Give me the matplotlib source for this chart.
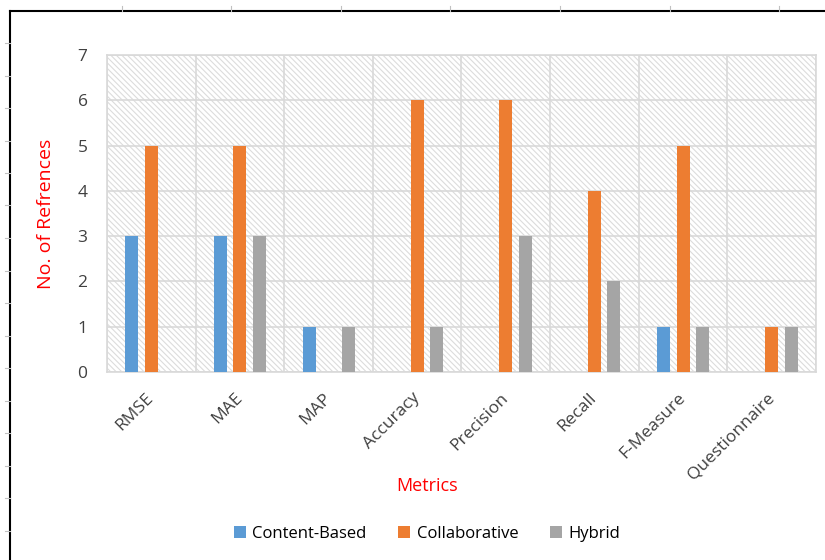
import numpy as np
import matplotlib.pyplot as plt
from matplotlib.patches import Rectangle
from matplotlib.lines import Line2D

# Datos
metrics = ['RMSE', 'MAE', 'MAP', 'Accuracy', 'Precision', 'Recall', 'F-Measure', 'Questionnaire']
content_based = [3, 3, 1, 0, 0, 0, 1, 0]
collaborative = [5, 5, 0, 6, 6, 4, 5, 1]
hybrid = [0, 3, 1, 1, 3, 2, 1, 1]

series = [('Content-Based', content_based, '#5B9BD5'),
          ('Collaborative', collaborative, '#ED7D31'),
          ('Hybrid', hybrid, '#A5A5A5')]

plt.rcParams['font.family'] = ['Open Sans', 'DejaVu Sans']
plt.rcParams['hatch.linewidth'] = 0.8

fig = plt.figure(figsize=(8.25, 5.6), dpi=100)
W, H = 825, 560
ax = fig.add_axes([107 / W, 1 - 372 / H, (816 - 107) / W, (372 - 55) / H])

# Fondo rayado del area de trazado
ax.set_facecolor('white')
ax.add_patch(Rectangle((0, 0), 1, 1, transform=ax.transAxes, facecolor='white',
                       edgecolor='#DCDCDC', hatch='\\\\\\\\\\\\', lw=0, zorder=0))

x = np.arange(len(metrics))
width = 0.147
offset = 0.22
for i, (name, vals, col) in enumerate(series):
    ax.bar(x + (i - 1) * offset, vals, width, color=col, label=name, zorder=3)

ax.set_xlim(-0.5, len(metrics) - 0.5)
ax.set_ylim(0, 7)
ax.set_yticks(range(8))
ax.set_xticks(x)
ax.set_xticklabels(metrics, rotation=45, ha='right', va='center', rotation_mode='anchor',
                   fontsize=12.5, color='#404040')
ax.tick_params(axis='x', length=0, pad=17)
ax.tick_params(axis='y', length=0, pad=14, labelsize=12.5, labelcolor='#404040')

# Cuadricula
ax.set_xticks(np.arange(-0.5, len(metrics), 1), minor=True)
ax.grid(True, which='major', axis='y', color='#D9D9D9', lw=1.2, zorder=1)
ax.grid(True, which='minor', axis='x', color='#D9D9D9', lw=1.2, zorder=1)
ax.tick_params(which='minor', length=0)
for s in ax.spines.values():
    s.set_color('#D9D9D9')
    s.set_linewidth(1.2)

ax.set_ylabel('No. of Refrences', color='#FF0000', fontsize=14)
ax.yaxis.set_label_coords(-0.073, 0.5)
ax.set_xlabel('Metrics', color='#FF0000', fontsize=13)
ax.xaxis.set_label_coords(0.451, -0.33)

fig.legend(loc='center', bbox_to_anchor=(427 / W, 1 - 534 / H), ncol=3, frameon=False,
           fontsize=12, handlelength=0.7, handleheight=0.7, columnspacing=1.9, handletextpad=0.4)

# Borde tipo hoja de calculo
fig.add_artist(Line2D([10 / W, 10 / W], [0, 1 - 11 / H], color='black', lw=1.5))
fig.add_artist(Line2D([10 / W, 1], [1 - 11 / H, 1 - 11 / H], color='black', lw=1.5))
for yy in np.arange(43, H, 32.5):
    fig.add_artist(Line2D([5 / W, 10 / W], [1 - yy / H, 1 - yy / H], color='#C0C0C0', lw=0.8))
for xx in np.arange(122, W, 109.5):
    fig.add_artist(Line2D([xx / W, xx / W], [1 - 6 / H, 1 - 11 / H], color='#C0C0C0', lw=0.8))

fig.savefig('out.png', dpi=100)
